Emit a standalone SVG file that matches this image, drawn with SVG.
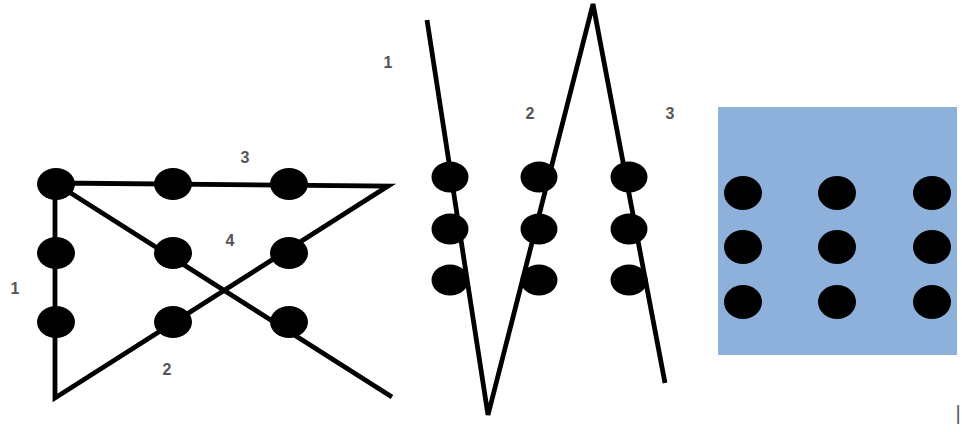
<svg xmlns="http://www.w3.org/2000/svg" width="962" height="432" viewBox="0 0 962 432">
<style>
.ln{stroke:#000;stroke-width:4.8;fill:none;stroke-linejoin:miter;stroke-linecap:butt}
.dot{fill:#000}
.lb{font-family:"Liberation Sans",Arial,sans-serif;font-size:16px;font-weight:bold;fill:#555;text-anchor:middle}
</style>
<rect width="962" height="432" fill="#fff"/>
<g id="connectors">
<polyline class="ln" points="55,183 388,186 55,398 55,183 392,397"/>
<polyline class="ln" points="427,20 488,415 593,4 665,383"/>
</g>
<g id="panel3">
<rect x="718" y="107" width="239" height="248" fill="#8DB1DA"/>
</g>
<g id="dots-left">
<ellipse class="dot" cx="56" cy="184" rx="19" ry="16"/>
<ellipse class="dot" cx="173" cy="184" rx="19" ry="16"/>
<ellipse class="dot" cx="289" cy="184" rx="19" ry="16"/>
<ellipse class="dot" cx="56" cy="253" rx="19" ry="16"/>
<ellipse class="dot" cx="173" cy="253" rx="19" ry="16"/>
<ellipse class="dot" cx="289" cy="253" rx="19" ry="16"/>
<ellipse class="dot" cx="56" cy="322" rx="19" ry="16"/>
<ellipse class="dot" cx="173" cy="322" rx="19" ry="16"/>
<ellipse class="dot" cx="289" cy="322" rx="19" ry="16"/>
</g>
<g id="dots-middle">
<ellipse class="dot" cx="450" cy="177" rx="18.5" ry="15.5"/>
<ellipse class="dot" cx="450" cy="229" rx="18.5" ry="15.5"/>
<ellipse class="dot" cx="450" cy="280" rx="18.5" ry="15.5"/>
<ellipse class="dot" cx="539" cy="177" rx="18.5" ry="15.5"/>
<ellipse class="dot" cx="539" cy="229" rx="18.5" ry="15.5"/>
<ellipse class="dot" cx="539" cy="280" rx="18.5" ry="15.5"/>
<ellipse class="dot" cx="629" cy="177" rx="18.5" ry="15.5"/>
<ellipse class="dot" cx="629" cy="229" rx="18.5" ry="15.5"/>
<ellipse class="dot" cx="629" cy="280" rx="18.5" ry="15.5"/>
</g>
<g id="dots-right">
<ellipse class="dot" cx="743" cy="193" rx="19" ry="17"/>
<ellipse class="dot" cx="837" cy="193" rx="19" ry="17"/>
<ellipse class="dot" cx="932" cy="193" rx="19" ry="17"/>
<ellipse class="dot" cx="743" cy="247" rx="19" ry="17"/>
<ellipse class="dot" cx="837" cy="247" rx="19" ry="17"/>
<ellipse class="dot" cx="932" cy="247" rx="19" ry="17"/>
<ellipse class="dot" cx="743" cy="302" rx="19" ry="17"/>
<ellipse class="dot" cx="837" cy="302" rx="19" ry="17"/>
<ellipse class="dot" cx="932" cy="302" rx="19" ry="17"/>
</g>
<g id="labels">
<text class="lb" x="245" y="163">3</text>
<text class="lb" x="230" y="246">4</text>
<text class="lb" x="15" y="294">1</text>
<text class="lb" x="167" y="375">2</text>
<text class="lb" x="388" y="68">1</text>
<text class="lb" x="530" y="119">2</text>
<text class="lb" x="670" y="119">3</text>
<text class="lb" x="958" y="420" style="font-size:20px;font-weight:normal">|</text>
</g>
</svg>
